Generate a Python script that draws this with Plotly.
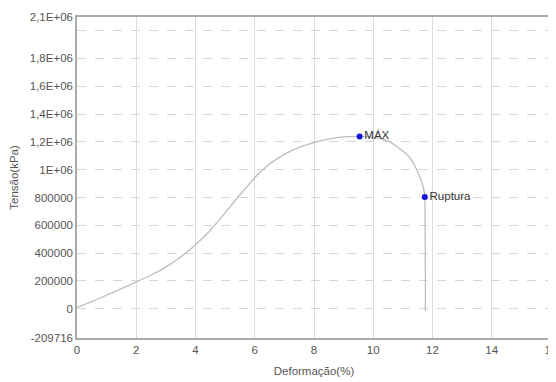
import plotly.graph_objects as go

# Curve data (Deformação %, Tensão kPa)
deformacao = [0, 0.5, 1, 1.5, 2, 2.5, 3, 3.5, 4, 4.5, 5, 5.5, 6, 6.5, 7, 7.5, 8, 8.5, 9, 9.54,
              10, 10.5, 10.9, 11.2, 11.4, 11.55, 11.65, 11.72, 11.74, 11.75, 11.76, 11.76]
tensao = [10000, 52000, 98000, 145000, 193000, 243000, 300000, 372000, 460000, 565000, 690000,
          820000, 942000, 1040000, 1110000, 1160000, 1195000, 1220000, 1235000, 1239000,
          1232000, 1205000, 1150000, 1095000, 1030000, 960000, 905000, 840000, 804000, 600000, 200000, -15000]

# Marked points
pontos_x = [9.54, 11.74]
pontos_y = [1239000, 804000]
pontos_txt = ["MÁX", "Ruptura"]

y_tickvals = [-209715.2, 0, 200000, 400000, 600000, 800000, 1000000, 1200000, 1400000,
              1600000, 1800000, 2000000, 2097152]
y_ticktext = ["-209716", "0", "200000", "400000", "600000", "800000", "1E+06", "1,2E+06",
              "1,4E+06", "1,6E+06", "1,8E+06", "", "2,1E+06"]
x_tickvals = [0, 2, 4, 6, 8, 10, 12, 14, 16]

FS = 11.5

fig = go.Figure()
fig.add_trace(go.Scatter(x=deformacao, y=tensao, mode="lines",
                         line=dict(color="#bdbdbd", width=1.3, shape="spline", smoothing=0.6),
                         hoverinfo="skip", showlegend=False))
fig.add_trace(go.Scatter(x=pontos_x, y=pontos_y, mode="markers+text",
                         marker=dict(color="#1010e0", size=6),
                         text=pontos_txt, textposition="middle right",
                         textfont=dict(family="Liberation Sans, Arial", size=FS, color="#333"),
                         showlegend=False))

# the page body adds an 8px offset, so the figure is sized to fit the window
fig.update_layout(
    width=548, height=374,
    margin=dict(l=69, r=5, t=9, b=44),
    paper_bgcolor="white", plot_bgcolor="white",
    font=dict(family="Liberation Sans, Arial", size=FS, color="#555"),
)
fig.update_xaxes(range=[0, 16], tickvals=x_tickvals, ticks="", showgrid=True,
                 gridcolor="#dcdcdc", gridwidth=1, zeroline=False, automargin=False,
                 showline=True, linecolor="#aaaaaa", linewidth=1.5, mirror=True,
                 ticklabeloverflow="allow",
                 title=dict(text="Deformação(%)", font=dict(size=FS), standoff=12),
                 tickfont=dict(size=FS))
fig.update_yaxes(range=[-209715.2, 2097152], tickvals=y_tickvals, ticktext=y_ticktext,
                 ticks="", showgrid=True, gridcolor="#d6d6d6", gridwidth=1, griddash="dash",
                 zeroline=False, showline=True, linecolor="#aaaaaa", linewidth=1.5, mirror=True,
                 automargin=False, ticklabeloverflow="allow",
                 title=dict(text="Tensão(kPa)", font=dict(size=FS), standoff=10),
                 tickfont=dict(size=FS))

fig.write_html("out.html")
